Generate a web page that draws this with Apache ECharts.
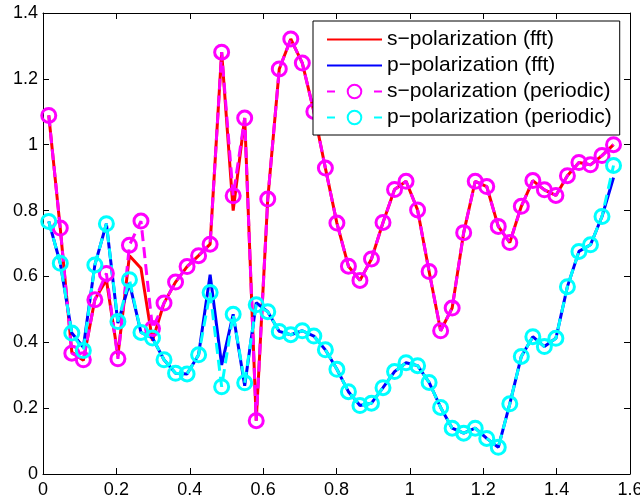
<!DOCTYPE html>
<html>
<head>
<meta charset="utf-8">
<script src="https://cdn.jsdelivr.net/npm/echarts@6/dist/echarts.min.js"></script>
<style>
html,body{margin:0;padding:0;background:#fff;}
#chart{width:640px;height:499px;}
</style>
</head>
<body>
<div id="chart"></div>
<script>
// angle samples (x values)
var xValues = [0.01571,0.04712,0.07854,0.10996,0.14137,0.17279,0.20420,0.23562,0.26704,0.29845,
  0.32987,0.36128,0.39270,0.42412,0.45553,0.48695,0.51836,0.54978,0.58119,0.61261,
  0.64403,0.67544,0.70686,0.73827,0.76969,0.80111,0.83252,0.86394,0.89535,0.92677,
  0.95819,0.98960,1.02102,1.05243,1.08385,1.11527,1.14668,1.17810,1.20951,1.24093,
  1.27235,1.30376,1.33518,1.36659,1.39801,1.42942,1.46084,1.49226,1.52367,1.55509];

var sFft = [1.089,0.745,0.370,0.345,0.530,0.590,0.360,0.663,0.625,0.405,
  0.519,0.583,0.630,0.663,0.698,1.281,0.800,1.081,0.162,0.835,
  1.230,1.321,1.248,1.101,0.929,0.762,0.631,0.588,0.653,0.764,
  0.864,0.889,0.802,0.615,0.435,0.504,0.733,0.889,0.873,0.752,
  0.703,0.813,0.891,0.863,0.846,0.906,0.946,0.939,0.967,1.000];

var pFft = [0.767,0.640,0.428,0.385,0.635,0.760,0.458,0.580,0.430,0.413,
  0.347,0.306,0.304,0.362,0.605,0.331,0.485,0.268,0.520,0.493,
  0.433,0.423,0.435,0.419,0.377,0.318,0.250,0.208,0.215,0.262,
  0.311,0.338,0.329,0.278,0.202,0.139,0.124,0.139,0.108,0.081,
  0.213,0.357,0.417,0.387,0.412,0.569,0.676,0.696,0.782,0.900];

var sPeriodic = [1.089,0.747,0.367,0.347,0.529,0.609,0.350,0.695,0.768,0.442,
  0.519,0.583,0.630,0.663,0.698,1.281,0.845,1.081,0.162,0.835,
  1.230,1.321,1.248,1.101,0.929,0.762,0.631,0.588,0.653,0.764,
  0.864,0.889,0.802,0.615,0.435,0.504,0.733,0.889,0.873,0.752,
  0.703,0.813,0.891,0.863,0.846,0.906,0.946,0.939,0.967,1.000];

var pPeriodic = [0.767,0.640,0.428,0.375,0.635,0.760,0.463,0.590,0.430,0.413,
  0.347,0.306,0.304,0.362,0.551,0.265,0.485,0.277,0.514,0.493,
  0.433,0.423,0.435,0.419,0.377,0.318,0.250,0.208,0.215,0.262,
  0.311,0.338,0.329,0.278,0.202,0.139,0.124,0.139,0.108,0.081,
  0.213,0.357,0.417,0.387,0.412,0.569,0.676,0.696,0.782,0.937];

var seriesNames = ['s\u2212polarization (fft)','p\u2212polarization (fft)',
  's\u2212polarization (periodic)','p\u2212polarization (periodic)'];

function pairs(ys){ return xValues.map(function(x,i){ return [x, ys[i]]; }); }

var FONT = 'Liberation Sans, Arial, Helvetica, sans-serif';
var axisCommon = {
  type:'value',
  axisLine:{show:true, onZero:false, lineStyle:{color:'#000', width:1}},
  axisTick:{show:true, inside:true, length:6, lineStyle:{color:'#000', width:1}},
  splitLine:{show:false}
};

var chart = echarts.init(document.getElementById('chart'), null, {renderer:'canvas'});
chart.setOption({
  animation:false,
  backgroundColor:'#fff',
  grid:{left:43, right:10, top:13, bottom:25, containLabel:false, outerBoundsMode:'none'},
  xAxis:[
    Object.assign({}, axisCommon, {position:'bottom', min:0, max:1.6, interval:0.2,
      axisLabel:{show:true, color:'#000', fontSize:18, fontFamily:FONT, margin:7}}),
    Object.assign({}, axisCommon, {position:'top', min:0, max:1.6, interval:0.2,
      axisLabel:{show:false}})
  ],
  yAxis:[
    Object.assign({}, axisCommon, {position:'left', min:0, max:1.4, interval:0.2,
      axisLabel:{show:true, color:'#000', fontSize:18, fontFamily:FONT, margin:5}}),
    Object.assign({}, axisCommon, {position:'right', min:0, max:1.4, interval:0.2,
      axisLabel:{show:false}})
  ],
  legend:{
    orient:'vertical', left:313, top:21,
    padding:[8,8,7,13],
    backgroundColor:'#fff', borderColor:'#000', borderWidth:1, borderRadius:0,
    itemWidth:55, itemHeight:17, itemGap:5,
    textStyle:{color:'#000', fontSize:21, fontFamily:FONT, lineHeight:21},
    selectedMode:false,
    data:[
      {name:seriesNames[0], itemStyle:{color:'rgba(0,0,0,0)', borderWidth:0}},
      {name:seriesNames[1], itemStyle:{color:'rgba(0,0,0,0)', borderWidth:0}},
      {name:seriesNames[2], lineStyle:{type:[8,39]}},
      {name:seriesNames[3], lineStyle:{type:[8,39]}}
    ]
  },
  series:[
    {name:seriesNames[0], type:'line', data:pairs(sFft), symbol:'none', showSymbol:false,
      lineStyle:{color:'#ff0000', width:3}, itemStyle:{color:'#ff0000'}},
    {name:seriesNames[1], type:'line', data:pairs(pFft), symbol:'none', showSymbol:false,
      lineStyle:{color:'#0000ff', width:3}, itemStyle:{color:'#0000ff'}},
    {name:seriesNames[2], type:'line', data:pairs(sPeriodic), symbol:'circle', symbolSize:14,
      lineStyle:{color:'#ff00ff', width:3, type:[11,6]},
      itemStyle:{color:'rgba(0,0,0,0)', borderColor:'#ff00ff', borderWidth:3}},
    {name:seriesNames[3], type:'line', data:pairs(pPeriodic), symbol:'circle', symbolSize:14,
      lineStyle:{color:'#00ffff', width:3, type:[11,6]},
      itemStyle:{color:'rgba(0,0,0,0)', borderColor:'#00ffff', borderWidth:3}}
  ]
});
</script>
</body>
</html>
